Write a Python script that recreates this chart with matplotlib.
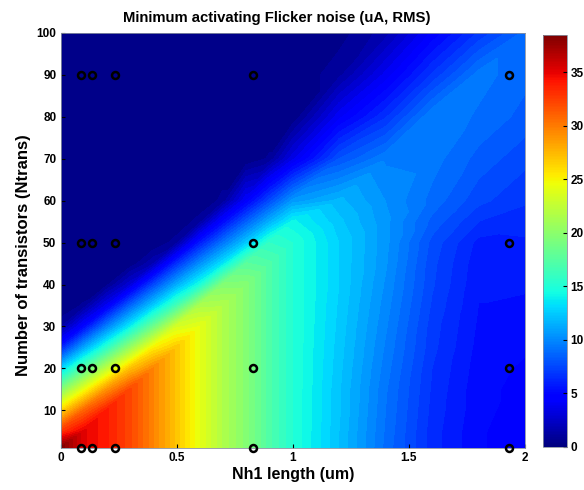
import numpy as np
import matplotlib
matplotlib.use('Agg')
import matplotlib.pyplot as plt
import matplotlib.tri as mtri
from matplotlib.colors import Normalize
from matplotlib.cm import ScalarMappable

plt.rcParams['font.family'] = ['Liberation Sans', 'DejaVu Sans']
plt.rcParams['font.weight'] = 'bold'
plt.rcParams['axes.titleweight'] = 'bold'
plt.rcParams['axes.labelweight'] = 'bold'

# surface nodes
x_nodes = [0, 0.1, 0.2, 0.3, 0.4, 0.5, 0.6, 0.7, 0.8, 0.9, 1.0, 1.2, 1.4, 1.6, 1.8, 2.0]
y_nodes = [1, 5, 10, 15, 20, 25, 30, 35, 40, 45, 50, 55, 60, 70, 80, 90, 100]

# noise (uA RMS), one row per x node, values along y_nodes
noise = [
    [38.5, 32.6, 25.9, 19.1, 12.4, 5.6, 1.0, 0, 0, 0, 0, 0, 0, 0, 0, 0, 0],
    [35.0, 35.0, 30.7, 24.0, 17.2, 10.8, 4.6, 0.7, 0, 0, 0, 0, 0, 0, 0, 0, 0],
    [33.8, 33.8, 33.8, 28.8, 22.1, 15.3, 9.4, 3.8, 0.4, 0, 0, 0, 0, 0, 0, 0, 0],
    [32.0, 32.0, 32.0, 32.0, 26.9, 20.2, 13.6, 8.3, 2.8, 0.1, 0, 0, 0, 0, 0, 0, 0],
    [29.5, 29.5, 29.5, 29.5, 29.5, 25.0, 18.3, 12.3, 7.2, 1.7, 0, 0, 0, 0, 0, 0, 0],
    [26.8, 26.8, 26.8, 26.8, 26.8, 26.8, 23.2, 16.4, 11.1, 6.3, 0.9, 0, 0, 0, 0, 0, 0],
    [24.0, 24.0, 24.0, 24.0, 24.0, 24.0, 24.0, 21.3, 14.5, 10.0, 5.5, 0.9, 0, 0, 0, 0, 0],
    [21.5, 21.5, 21.5, 21.5, 21.5, 21.5, 21.5, 21.5, 19.4, 13.3, 9.0, 4.8, 0.8, 0, 0, 0, 0],
    [19.5, 19.5, 19.5, 19.5, 19.5, 19.5, 19.5, 19.5, 19.5, 17.5, 12.2, 8.2, 4.2, 0, 0, 0, 0],
    [17.0, 17.0, 17.0, 17.0, 17.0, 17.0, 17.0, 17.0, 17.0, 17.0, 15.6, 11.3, 7.4, 0.7, 0, 0, 0],
    [15.0, 15.0, 15.0, 15.0, 15.0, 15.0, 15.0, 15.0, 15.0, 15.0, 15.0, 14.0, 10.4, 3.4, 0, 0, 0],
    [12.0, 12.0, 12.1, 12.1, 12.2, 12.3, 12.4, 12.5, 12.6, 12.6, 12.6, 12.2, 11.6, 7.8, 4.0, 1.0, 0.3],
    [8.8, 8.9, 9.0, 9.1, 9.3, 9.5, 9.7, 9.9, 10.1, 10.3, 10.4, 10.4, 10.2, 9.5, 6.5, 3.8, 1.5],
    [6.3, 6.3, 6.4, 6.5, 6.6, 6.8, 6.9, 7.1, 7.3, 7.4, 7.6, 8.2, 8.8, 9.3, 9.6, 6.7, 4.3],
    [4.9, 4.9, 5.0, 5.0, 5.1, 5.2, 5.3, 5.4, 5.5, 5.6, 5.8, 6.6, 7.4, 8.2, 8.9, 9.3, 6.7],
    [4.4, 4.4, 4.5, 4.6, 4.7, 4.9, 5.1, 5.3, 5.5, 5.7, 5.9, 6.3, 6.7, 7.4, 8.2, 8.6, 8.6],
]

# simulated points
pt_len = [0.09, 0.135, 0.235, 0.83, 1.93]
pt_ntrans = [1, 20, 50, 90]

cmax = 38.5

fig = plt.figure(figsize=(5.84, 4.9), dpi=100)
ax = fig.add_axes([60.5/584, 1-448/490, (525-60.5)/584, (448-33)/490])

X, Y = np.meshgrid(x_nodes, y_nodes, indexing='ij')
Z = np.array(noise)
nx, ny = Z.shape
idx = np.arange(nx*ny).reshape(nx, ny)
a = idx[:-1, :-1].ravel()
b = idx[1:, :-1].ravel()
c = idx[1:, 1:].ravel()
d = idx[:-1, 1:].ravel()
tris = np.concatenate([np.stack([a, b, c], 1), np.stack([a, c, d], 1)])
tri = mtri.Triangulation(X.ravel(), Y.ravel(), tris)

levels = np.linspace(0, cmax, 65)
cs = ax.tricontourf(tri, Z.ravel(), levels=levels, cmap='jet')
cs.set_edgecolor('face')
cs.set_linewidth(0.3)

PX, PY = np.meshgrid(pt_len, pt_ntrans)
ax.plot(PX.ravel(), PY.ravel(), 'o', mfc='none', mec='k', ms=5, mew=1.8,
        clip_on=False, zorder=5)

ax.set_xlim(0, 2)
ax.set_ylim(1, 100)
ax.set_xticks([0, 0.5, 1, 1.5, 2])
ax.set_xticklabels(['0', '0.5', '1', '1.5', '2'])
ax.set_yticks(range(10, 101, 10))
ax.tick_params(direction='in', length=3, labelsize=8.5, pad=3)
for s in ax.spines.values():
    s.set_color('#8890a0')
    s.set_linewidth(0.6)

ax.set_xlabel('Nh1 length (um)', fontsize=11.5, labelpad=2)
ax.set_ylabel('Number of transistors (Ntrans)', fontsize=12, labelpad=4, y=0.465)
ax.set_title('Minimum activating Flicker noise (uA, RMS)', fontsize=10.7,
             pad=8, x=0.466)

cax = fig.add_axes([542.5/584, 1-446.7/490, 24/584, (446.7-35)/490])
sm = ScalarMappable(norm=Normalize(0, cmax), cmap='jet')
cb = fig.colorbar(sm, cax=cax, ticks=range(0, 40, 5))
cb.ax.tick_params(direction='in', length=3, labelsize=8.5, pad=3)
cb.outline.set_linewidth(0.6)
cb.outline.set_edgecolor('#8890a0')

fig.savefig('out.png', dpi=100)
